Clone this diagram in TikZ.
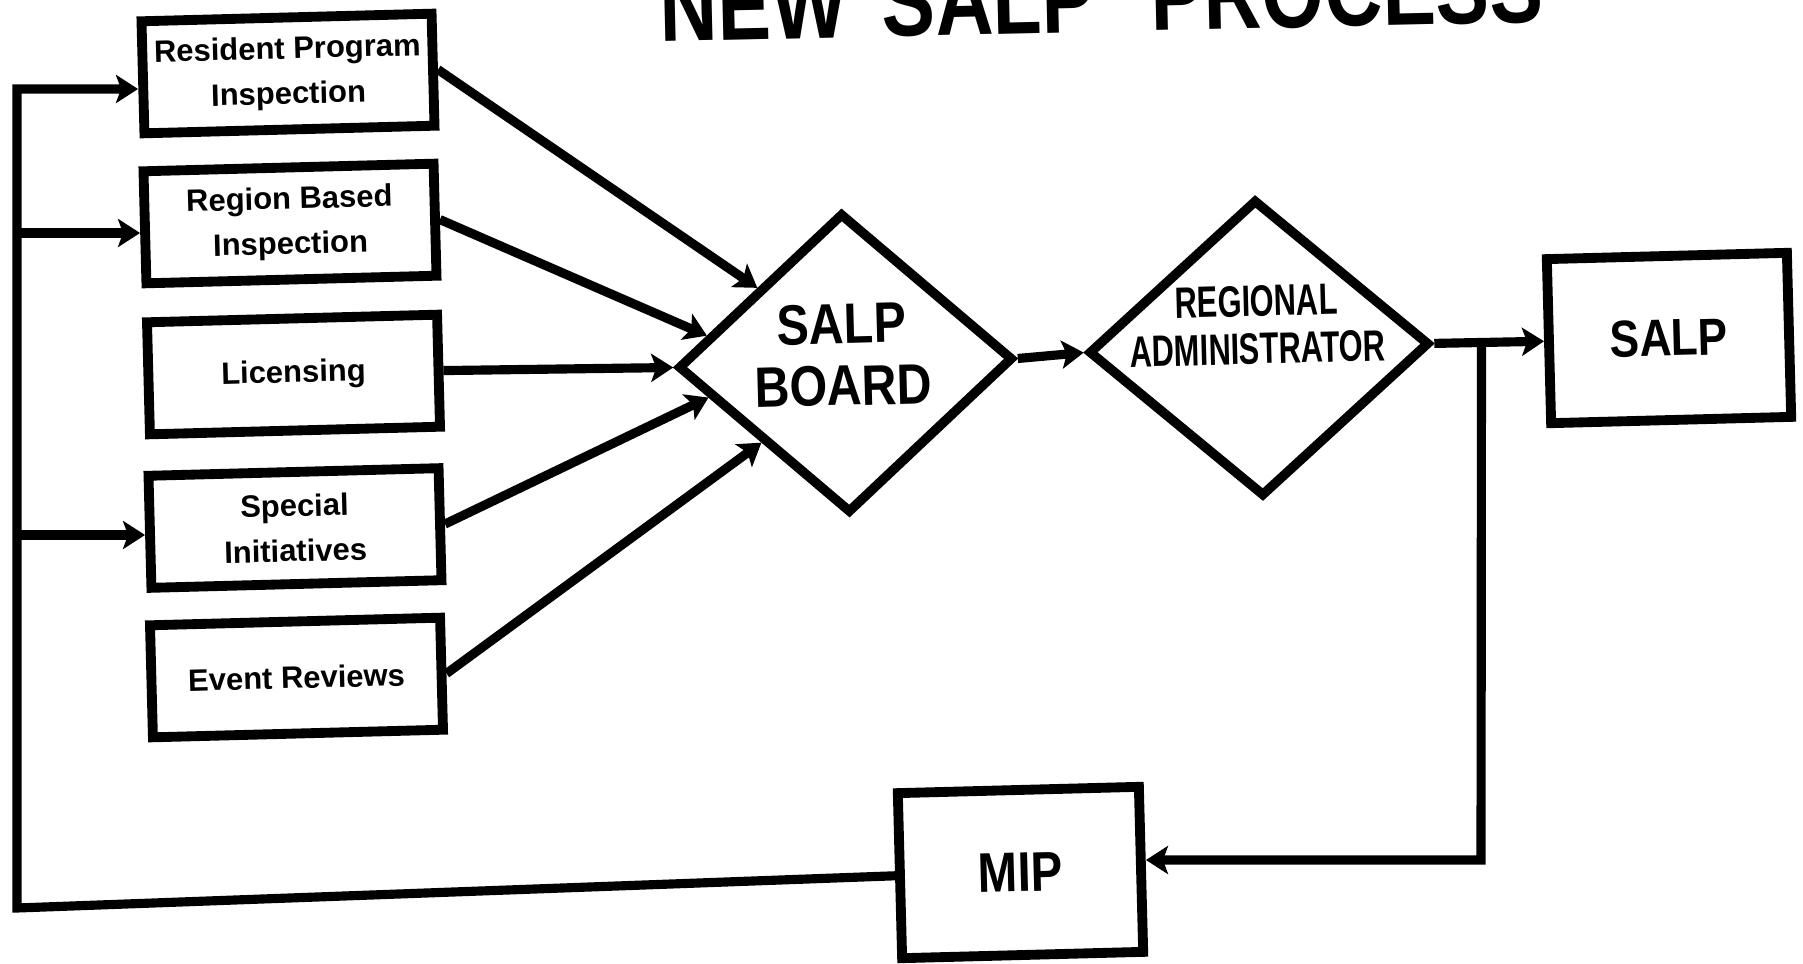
\documentclass[tikz,border=0pt]{standalone}
\usepackage{fontspec}
\setmainfont{Liberation Sans}
\newfontfamily\boxfont{Liberation Sans Bold}
\newfontfamily\condfont[FakeStretch=0.85]{Liberation Sans Bold}
\newfontfamily\narrowfont[FakeStretch=0.70]{Liberation Sans Bold}
\newfontfamily\titlefont[FakeStretch=0.80]{Liberation Sans Bold}
\usetikzlibrary{arrows.meta,shapes.geometric,calc}
\begin{document}
\begin{tikzpicture}[x=0.01cm,y=-0.01cm,
  tilt/.style={rotate=1.5},
  procbox/.style={draw, tilt, line width=2.8pt, minimum width=2.90cm, minimum height=1.12cm,
    inner sep=0pt, align=center, font=\boxfont\fontsize{8.8pt}{12.8pt}\selectfont},
  outbox/.style={draw, tilt, line width=2.8pt, inner sep=0pt, align=center},
  dia/.style={draw, tilt, diamond, line width=2.7pt, inner sep=0pt},
  diatext/.style={tilt, align=center, inner sep=0pt},
  conn/.style={line width=2.6pt},
  arr/.style={conn, -{Stealth[length=0.22cm,width=0.28cm,inset=0.05cm]}}]
\useasboundingbox (0,0) rectangle (1803,964);
\clip (0,0) rectangle (1803,964);

% title (cropped at top, as in the scan)
\node[anchor=base west, inner sep=0pt, rotate=1.3,
  font=\titlefont\fontsize{28.5pt}{30pt}\selectfont] (title) at (660,42)
  {NEW\hspace{0.35cm}SALP\hspace{0.55cm}PROCESS};

% input boxes
\node[procbox] (b1) at (288,73.5) {Resident Program\\Inspection};
\node[procbox] (b2) at (290,223.5) {Region Based\\Inspection};
\node[procbox] (b3) at (293.5,374.5) {Licensing};
\node[procbox] (b4) at (295,528) {Special\\Initiatives};
\node[procbox] (b5) at (296.5,677.5) {Event Reviews};

% diamonds
\node[dia, minimum width=3.35cm, minimum height=3.0cm] (sb) at (845.5,363) {};
\node[diatext, font=\condfont\fontsize{16.2pt}{17.6pt}\selectfont]
  (sbtxt) at ($(sb.center)+(-3,-8)$) {SALP\\BOARD};
\node[dia, minimum width=3.41cm, minimum height=2.97cm] (ra) at (1259,348) {};
\node[diatext, font=\narrowfont\fontsize{12.5pt}{13.5pt}\selectfont]
  (ratxt) at ($(ra.center)+(-2,-23)$) {REGIONAL\\ADMINISTRATOR};

% output boxes
\node[outbox, minimum width=2.40cm, minimum height=1.64cm,
  font=\condfont\fontsize{14.8pt}{16pt}\selectfont] (salp) at (1669,338) {SALP};
\node[outbox, minimum width=2.41cm, minimum height=1.65cm,
  font=\condfont\fontsize{15.9pt}{17pt}\selectfont] (mip) at (1020.5,872.5) {MIP};

% feedback loop on the left
\coordinate (c1) at (17,89);
\coordinate (c2) at (17,233);
\coordinate (c4) at (17,535);
\coordinate (cb) at (17,908);
\draw[arr] (mip.west) -- (cb) -- (c1) -- (c1 -| b1.west);
\draw[arr] (c2) -- (c2 -| b2.west);
\draw[arr] (c4) -- (c4 -| b4.west);

% inputs into SALP board
\draw[arr] (b1.east) -- (sb.north west);
\draw[arr] (b2.east) -- ($(sb.west)!0.2!(sb.north)$);
\draw[arr] (b3.east) -- (sb.west);
\draw[arr] (b4.east) -- ($(sb.west)!0.2!(sb.south)$);
\draw[arr] (b5.east) -- (sb.south west);

% main flow
\draw[arr] (sb.east) -- (ra.west);
\draw[arr] (ra.east) -- (salp.west);
\path (ra.east) -- (salp.west) coordinate[pos=0.43] (j);
\coordinate (k) at (1481,860);
\draw[arr] (j) -- (k) -- (k -| mip.east);
\end{tikzpicture}
\end{document}
